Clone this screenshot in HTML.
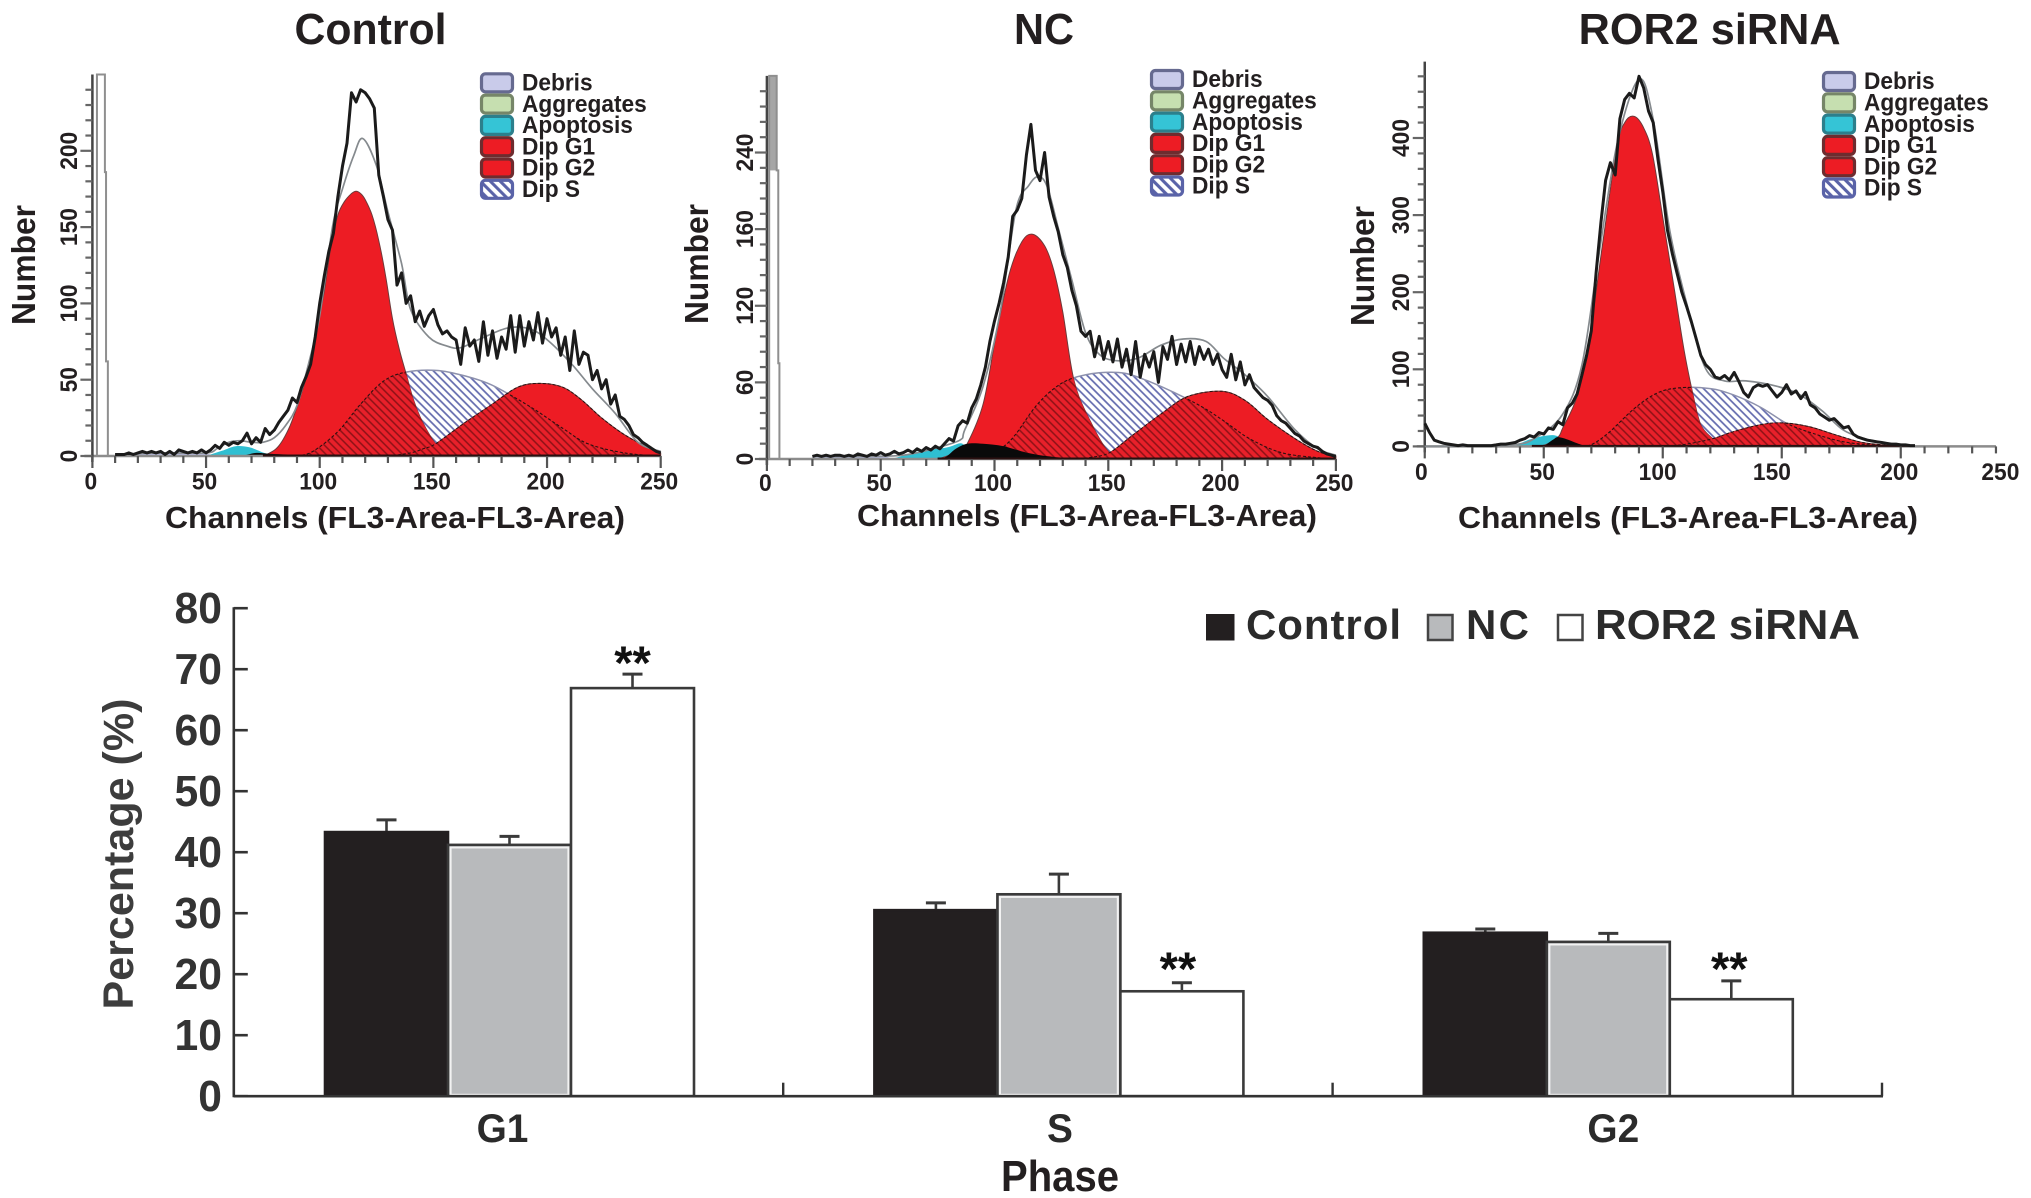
<!DOCTYPE html>
<html lang="en">
<head>
<meta charset="utf-8">
<title>Cell cycle histograms and phase percentages</title>
<style>
html,body{margin:0;padding:0;background:#fff;}
svg{display:block;}
text{font-family:"Liberation Sans",sans-serif;font-weight:bold;fill:#231f20;}
</style>
</head>
<body>
<svg id="fig" xmlns="http://www.w3.org/2000/svg" width="2031" height="1198" viewBox="0 0 2031 1198">
<defs>
<pattern id="hatch-blue" patternUnits="userSpaceOnUse" width="5.4" height="5.4" patternTransform="rotate(-45)">
<rect width="5.4" height="5.4" fill="#fff"/><line x1="1" y1="0" x2="1" y2="5.4" stroke="#6169ad" stroke-width="1.7"/>
</pattern>
<pattern id="hatch-dark" patternUnits="userSpaceOnUse" width="5.4" height="5.4" patternTransform="rotate(-45)">
<rect width="5.4" height="5.4" fill="#e8202a"/><line x1="1" y1="0" x2="1" y2="5.4" stroke="#8c1116" stroke-width="1.5"/>
</pattern>
<pattern id="hatch-legend" patternUnits="userSpaceOnUse" width="7" height="7" patternTransform="rotate(-45)">
<rect width="7" height="7" fill="#fff"/><line x1="1.5" y1="0" x2="1.5" y2="7" stroke="#5a63a8" stroke-width="3.2"/>
</pattern>
</defs>

<text x="370.5" y="44" font-size="44" text-anchor="middle" textLength="152" lengthAdjust="spacingAndGlyphs">Control</text>
<text x="1044" y="44" font-size="44" text-anchor="middle" textLength="60" lengthAdjust="spacingAndGlyphs">NC</text>
<text x="1709.6" y="44" font-size="44" text-anchor="middle" textLength="262" lengthAdjust="spacingAndGlyphs">ROR2 siRNA</text>

<text transform="translate(35,265) rotate(-90)" font-size="33" text-anchor="middle" textLength="120" lengthAdjust="spacingAndGlyphs">Number</text>
<text transform="translate(708,264) rotate(-90)" font-size="33" text-anchor="middle" textLength="120" lengthAdjust="spacingAndGlyphs">Number</text>
<text transform="translate(1374,266) rotate(-90)" font-size="33" text-anchor="middle" textLength="120" lengthAdjust="spacingAndGlyphs">Number</text>

<text x="395" y="528" font-size="31" text-anchor="middle" textLength="460" lengthAdjust="spacingAndGlyphs">Channels (FL3-Area-FL3-Area)</text>
<text x="1087" y="526" font-size="31" text-anchor="middle" textLength="460" lengthAdjust="spacingAndGlyphs">Channels (FL3-Area-FL3-Area)</text>
<text x="1688" y="528" font-size="31" text-anchor="middle" textLength="460" lengthAdjust="spacingAndGlyphs">Channels (FL3-Area-FL3-Area)</text>

<text transform="translate(133,854) rotate(-90)" font-size="43" text-anchor="middle" textLength="311" lengthAdjust="spacingAndGlyphs" style="fill:#3d3d3d">Percentage (%)</text>
<text x="1060" y="1191" font-size="44" text-anchor="middle" textLength="118" lengthAdjust="spacingAndGlyphs">Phase</text>

<g>
<rect x="1206" y="614" width="28.5" height="26.5" fill="#231f20"/>
<text x="1246" y="639" font-size="42" textLength="155" lengthAdjust="spacing" style="fill:#2b2b2b">Control</text>
<rect x="1428" y="615" width="24.5" height="25" fill="#b8babc" stroke="#444" stroke-width="2.5"/>
<text x="1466" y="639" font-size="42" textLength="63" lengthAdjust="spacing" style="fill:#2b2b2b">NC</text>
<rect x="1558" y="615" width="24.5" height="25" fill="#fff" stroke="#444" stroke-width="2.5"/>
<text x="1595" y="639" font-size="42" textLength="265" lengthAdjust="spacingAndGlyphs" style="fill:#2b2b2b">ROR2 siRNA</text>
</g>
</svg>

<script>
// ---------- histogram data ----------
const legendLabels = ['Debris','Aggregates','Apoptosis','Dip G1','Dip G2','Dip S'];

const controlHistStart = 10;
const controlHist = [1,1,1,2,1,2,3,2,3,2,3,1,3,1,4,3,2,3,2,4,2,
 4,7,5,9,7,9,8,10,15,8,12,9,18,14,17,22,26,30,38,35,45,
 52,60,78,100,118,134,146,170,190,205,238,232,240,238,234,228,
 184,170,155,148,112,120,100,105,88,95,85,92,96,86,80,82,78,76,60,84,72,76,62,88,66,82,64,78,70,92,68,92,72,88,76,94,74,90,78,84,66,78,56,82,60,68,66,50,56,44,50,34,40,26,24,20,14,12,9,7,5,3,2];
const controlFitCh = [10,30,50,55,60,65,70,75,80,85,90,95,100,105.7,110,115,119,125,130,136,140,148,156,162,171,183,193,201,211,220,230,240,250];
const controlFit = [1,2,2,5,9,10,9,9,12,20,33,60,92,151,175,197,208,190,160,126,96,78,72,71,77,84,83,75,60,44,28,9,3];
const controlG1Ch = [75,78,81,84,87,90,93,96,99,102,105,108,111,114,116,118,120,123,126,129,132,135,138,141,145,151,156,162];
const controlG1 = [0,2,5,11,20,32,46,62,85,108,138,158,167,172,173.5,172,168,158,141,118,90,70,54,38,23,8,3,0];
const controlG2Ch = [130,140,146,151,164,175,187,197,207,215,224,234,244,250];
const controlG2 = [0,2,5,8,22,33,45,47.6,45,37,25,14,6,2];
const controlSCh = [90,97,108,118,128,138,152,165,175,185,195,207,218,234,250];
const controlS = [0,3,16,34,49,55,56,52,47,39,30,18,8,2,0];
const controlApopCh = [50,57,63,69,75,80];
const controlApop = [0,3.4,6.4,5.7,2.3,0];
const controlBlackCh = [66,72,78,86,96,110];
const controlBlack = [0,2,1.5,1,0.6,0];
const controlDebrisCh = [10,20,30,40,50,55];
const controlDebris = [1,1.5,2,3,1.5,0];
const controlSpikeCh = [2,2,5.5,5.5,6,6,6.8,6.8];
const controlSpike = [0,250,250,186,186,62,62,0];

const ncHistStart = 20;
const ncHist = [2,3,2,3,2,3,3,2,3,2,4,3,2,4,3,5,3,4,6,4,5,
 7,5,8,6,9,7,10,8,12,16,14,26,30,28,40,47,58,72,92,108,122,138,158,190,195,204,238,262,226,218,240,205,190,178,160,150,132,120,100,96,100,80,96,78,92,76,94,72,86,66,92,64,82,72,84,60,88,78,96,74,90,76,92,74,88,78,86,74,82,70,64,82,62,76,58,66,56,52,48,46,42,34,30,28,24,20,18,14,12,10,9,6,4,3,2];
const ncFitCh = [20,40,60,75,85,87,95,102.5,109.4,115,119,123,128,134,140,146,153.5,163,173,183,193,200.6,210,220,232,242,250];
const ncFit = [2,2,3,9,15,23,57,115,195,214,221,214,181,140,99,82,77,79,89,94,92,79,66,49,23,8,3];
const ncG1Ch = [75,80,85,88,95,100.6,106.5,112,116.7,122,126,130,135,142,150.6,160];
const ncG1 = [0,3,8,12,43,96,145,170,176,167,148,115,61,30,5,0];
const ncG2Ch = [135,143,150.6,161,173,185,200,210,220,232,242,250];
const ncG2 = [0,1.5,5,19,35,49,53,46,31,16,6,2];
const ncSCh = [92,100,105.5,110,118,126,134,146,157.5,169,179,191,200.6,212,226,242,250];
const ncS = [0,5,12,21,41,55,63,67.5,67,60,52,41,30,16,5,1,0];
const ncApopCh = [55,67,79,86,89];
const ncApop = [0,6,9,12,0];
const ncBlackCh = [76,79,83,88,95,104,114,124,134];
const ncBlack = [0,2,8,12,12,10,5,2,0.4];
const ncDebrisCh = [20,30,40,50,55];
const ncDebris = [1,2,2,3,0];
const ncSpikeCh = [1,1,4.3,4.3,5,5,5.5,5.5];
const ncSpike = [0,300,300,226,226,75,75,0];

const rorHistStart = 0;
const rorHist = [30,18,8,6,4,3,2,1,2,1,1,1,1,1,1,2,3,3,4,5,8,10,14,12,18,16,24,22,32,28,50,
 56,68,92,118,150,225,290,345,368,352,425,450,458,452,480,465,435,420,372,330,280,250,225,200,182,162,140,118,106,100,90,88,92,86,96,84,70,64,76,80,78,80,72,64,70,80,68,72,62,70,54,50,42,38,34,36,30,24,26,16,12,10,8,7,6,5,4,3,3,2,2,1,1];
const rorFitCh = [0,36,47,58,66,73,81,90,96,103,110.7,118,126,135,148,157.6,167,176,186,195,204.5];
const rorFit = [0,2,12,42,105,245,395,476,424,279,178,101,85,85,78,67,46,21,9,4,1];
const rorG1Ch = [45,50.6,56,58,64,69,75,80.7,84,88,92,95.7,100,105,109,112.6,116,121,124,130];
const rorG1 = [0,2,12,24,65,137,269,388,420,428,413,379,297,201,124,69,28,10,3,0];
const rorG2Ch = [100,110,121,129.5,141,150,161,172.6,184,197,204];
const rorG2 = [0,3,10,19,28,30.5,26,15,5,1,0];
const rorSCh = [62,69,77,88,97.5,107,120,129.5,141,152,163,176,191,200];
const rorS = [0,1,17,49,69,76,75,67,51,30,17,6,1,0];
const rorApopCh = [37.5,45,54.4,60,65];
const rorApop = [0,10,14.5,5,0];
const rorBlackCh = [50,54,56,60,64,68];
const rorBlack = [0,9,12,9,4,0];
const rorDebrisCh = [30,37];
const rorDebris = [0,0];
const rorSpikeCh = [];
const rorSpike = [];

// ---------- bar chart data ----------
const phaseCategories = ['G1','S','G2'];
const barGroups = ['Control','NC','ROR2 siRNA'];
const controlMeans = [43.3,30.5,26.8];
const ncMeans = [41.2,33.1,25.3];
const rorMeans = [66.9,17.2,15.9];
const controlTops = [45.3,31.7,27.4];
const ncTops = [42.6,36.4,26.7];
const rorTops = [69.2,18.6,18.9];
const significance = ['**','**','**'];
const barTickValues = [0,10,20,30,40,50,60,70,80];

// ---------- layout ----------
const NS = 'http://www.w3.org/2000/svg';
const svg = document.getElementById('fig');
function mk(tag, attrs, parent, txt){
  const e = document.createElementNS(NS, tag);
  for (const k in attrs) e.setAttribute(k, attrs[k]);
  if (txt !== undefined) e.textContent = txt;
  (parent || svg).appendChild(e);
  return e;
}
function squeeze(el, f){
  el.setAttribute('textLength', (el.getComputedTextLength()*f).toFixed(1));
  el.setAttribute('lengthAdjust', 'spacingAndGlyphs');
}
function smoothPath(pts){
  let d = '';
  for (let i = 0; i < pts.length - 1; i++){
    const p0 = pts[Math.max(i-1,0)], p1 = pts[i], p2 = pts[i+1], p3 = pts[Math.min(i+2,pts.length-1)];
    const c1x = p1[0] + (p2[0]-p0[0])/6, c1y = p1[1] + (p2[1]-p0[1])/6;
    const c2x = p2[0] - (p3[0]-p1[0])/6, c2y = p2[1] - (p3[1]-p1[1])/6;
    d += 'C' + c1x.toFixed(1) + ' ' + c1y.toFixed(1) + ' ' + c2x.toFixed(1) + ' ' + c2y.toFixed(1) + ' ' + p2[0].toFixed(1) + ' ' + p2[1].toFixed(1);
  }
  return d;
}

const panels = [
 {key:'control', x0:92.4, xk:2.2732, y0:456, yk:1.526, yTop:250, yMajor:50, yMinor:10, yTickMax:240,
  yVals:[0,50,100,150,200], yText:['0','50','100','150','200'], yLabelX:77, xEnd:250,
  xVals:[0,50,100,150,200,250], xText:['0','50','100','150','200','250'], xBase:489.5, legX:480, legY:73.3,
  hist:controlHist, histStart:controlHistStart, fitCh:controlFitCh, fit:controlFit, g1Ch:controlG1Ch, g1:controlG1, g2Ch:controlG2Ch, g2:controlG2, sCh:controlSCh, s:controlS, apCh:controlApopCh, ap:controlApop, blCh:controlBlackCh, bl:controlBlack, deCh:controlDebrisCh, de:controlDebris, spCh:controlSpikeCh, sp:controlSpike, spFill:null},
 {key:'nc', x0:766.9, xk:2.276, y0:459, yk:1.277, yTop:300, yMajor:60, yMinor:12, yTickMax:288,
  yVals:[0,60,120,180,240], yText:['0','60','120','160','240'], yLabelX:753, xEnd:250,
  xVals:[0,50,100,150,200,250], xText:['0','50','100','150','200','250'], xBase:491, legX:1150, legY:70,
  hist:ncHist, histStart:ncHistStart, fitCh:ncFitCh, fit:ncFit, g1Ch:ncG1Ch, g1:ncG1, g2Ch:ncG2Ch, g2:ncG2, sCh:ncSCh, s:ncS, apCh:ncApopCh, ap:ncApop, blCh:ncBlackCh, bl:ncBlack, deCh:ncDebrisCh, de:ncDebris, spCh:ncSpikeCh, sp:ncSpike, spFill:226},
 {key:'ror2', x0:1424.75, xk:2.38, y0:446.4, yk:0.771, yTop:499, yMajor:100, yMinor:20, yTickMax:480,
  yVals:[0,100,200,300,400], yText:['0','100','200','300','400'], yLabelX:1409, xEnd:240,
  xVals:[-0.8,50,98.5,146.5,200,242.5], xText:['0','50','100','150','200','250'], xBase:480, legX:1822, legY:72,
  hist:rorHist, histStart:rorHistStart, fitCh:rorFitCh, fit:rorFit, g1Ch:rorG1Ch, g1:rorG1, g2Ch:rorG2Ch, g2:rorG2, sCh:rorSCh, s:rorS, apCh:rorApopCh, ap:rorApop, blCh:rorBlackCh, bl:rorBlack, deCh:rorDebrisCh, de:rorDebris, spCh:rorSpikeCh, sp:rorSpike, spFill:null}
];
const legendFills = ['#c9cbea','#c6dfb0','#35c4d6','#ed1c24','#ed1c24','url(#hatch-legend)'];
const legendEdges = ['#666a90','#768668','#2c7f8c','#6e2c2f','#6e2c2f','#5a63a8'];

panels.forEach(function(p){
  const X = function(c){ return p.x0 + c*p.xk; };
  const Y = function(v){ return p.y0 - v*p.yk; };
  const g = mk('g', {}, svg);
  
  

  function area(ch, vals){
    const pts = ch.map(function(c,i){ return [X(c), Y(vals[i])]; });
    return 'M' + pts[0][0].toFixed(1) + ' ' + p.y0 + 'L' + pts[0][0].toFixed(1) + ' ' + pts[0][1].toFixed(1) + smoothPath(pts) + 'L' + pts[pts.length-1][0].toFixed(1) + ' ' + p.y0 + 'Z';
  }
  function curve(ch, vals){
    const pts = ch.map(function(c,i){ return [X(c), Y(vals[i])]; });
    return 'M' + pts[0][0].toFixed(1) + ' ' + pts[0][1].toFixed(1) + smoothPath(pts);
  }

  // model components
  const debris = mk('path', {d:area(p.deCh,p.de), fill:'#b9bde3'}, g);
  
  
  const sArea = mk('path', {d:area(p.sCh,p.s), fill:'url(#hatch-blue)', stroke:'#8d91ad', 'stroke-width':1.5}, g);
  
  
  const apop = mk('path', {d:area(p.apCh,p.ap), fill:'#2fbfd2'}, g);
  
  
  const g1 = mk('path', {d:area(p.g1Ch,p.g1), fill:'#ed1c24', stroke:'#6e3a3a', 'stroke-width':1}, g);
  
  
  const g2 = mk('path', {d:area(p.g2Ch,p.g2), fill:'#ed1c24', stroke:'#6e3a3a', 'stroke-width':1}, g);
  
  

  // S hatch where it overlaps G1 / G2
  const cid = 'clip-' + p.key;
  const clip = mk('clipPath', {id:cid}, g);
  mk('path', {d:area(p.g1Ch,p.g1)}, clip);
  mk('path', {d:area(p.g2Ch,p.g2)}, clip);
  const overlap = mk('path', {d:area(p.sCh,p.s), fill:'url(#hatch-dark)', 'clip-path':'url(#'+cid+')'}, g);
  
  
  const sEdge = mk('path', {d:curve(p.sCh,p.s), fill:'none', stroke:'#2a1010', 'stroke-width':1.1, 'stroke-dasharray':'3 2', 'clip-path':'url(#'+cid+')'}, g);
  
  
  const g2Edge = mk('path', {d:curve(p.g2Ch,p.g2), fill:'none', stroke:'#2a1010', 'stroke-width':1, 'stroke-dasharray':'3 2'}, g);
  
  
  const black = mk('path', {d:area(p.blCh,p.bl), fill:'#0a0a0a'}, g);
  
  

  // axes
  const base = mk('line', {x1:p.x0-8, y1:p.y0, x2:X(p.xEnd), y2:p.y0, stroke:'#8c8c8c', 'stroke-width':2.5}, g);
  
  
  const redBase = mk('line', {x1:X(p.g1Ch[0]), y1:p.y0-0.5, x2:X(p.g2Ch[p.g2Ch.length-1]), y2:p.y0-0.5, stroke:'#2a1010', 'stroke-width':2}, g);
  
  
  const yAxis = mk('line', {x1:p.x0, y1:Y(p.yTop), x2:p.x0, y2:p.y0+6, stroke:'#444', 'stroke-width':2.5}, g);
  
  
  for (let v = 0; v <= p.yTickMax; v += p.yMinor){
    const major = v % p.yMajor === 0;
    const t = mk('line', {x1:p.x0-(major?12:7), y1:Y(v), x2:p.x0, y2:Y(v), stroke:'#666', 'stroke-width':2.2}, g);
    
    
  }
  for (let c = 0; c <= p.xEnd; c += 10){
    const major = c % 50 === 0;
    const t = mk('line', {x1:X(c), y1:p.y0, x2:X(c), y2:p.y0+(major?12:7), stroke:'#555', 'stroke-width':2.2}, g);
    
    
  }
  p.yVals.forEach(function(v,i){
    const t = mk('text', {transform:'translate('+p.yLabelX+','+Y(v)+') rotate(-90)', 'font-size':24, 'text-anchor':'middle'}, g, p.yText[i]);
    
    
    squeeze(t, 0.95);
  });
  p.xVals.forEach(function(c,i){
    const t = mk('text', {x:X(c)-1.5, y:p.xBase, 'font-size':24, 'text-anchor':'middle'}, g, p.xText[i]);
    
    
    squeeze(t, 0.95);
  });

  // off-scale spike at the left edge
  if (p.spCh.length){
    if (p.spFill){
      const sf = mk('rect', {x:X(p.spCh[0]), y:Y(p.yTop), width:X(p.spCh[2])-X(p.spCh[0]), height:Y(p.spFill)-Y(p.yTop), fill:'#a6a6a6'}, g);
      
      
    }
    const spike = mk('polyline', {points:p.spCh.map(function(c,i){ return X(c)+','+Y(p.sp[i]); }).join(' '), fill:'none', stroke:'#8f8f8f', 'stroke-width':2}, g);
    
    
  }

  // fit and histogram lines
  const fit = mk('path', {d:curve(p.fitCh,p.fit), fill:'none', stroke:'#858a8e', 'stroke-width':1.7}, g);
  
  
  const hist = mk('polyline', {points:p.hist.map(function(v,i){ return X(p.histStart+i*2).toFixed(1)+','+Y(v).toFixed(1); }).join(' '), fill:'none', stroke:'#1b1b1b', 'stroke-width':3, 'stroke-linejoin':'round'}, g);
  
  

  // legend
  legendLabels.forEach(function(lbl,i){
    const ly = p.legY + i*21.3;
    const sw = mk('rect', {x:p.legX+1.5, y:ly+0.5, width:31, height:18, rx:4, fill:legendFills[i], stroke:legendEdges[i], 'stroke-width':3.2}, g);
    
    
    const tx = mk('text', {x:p.legX+42, y:ly+17.2, 'font-size':24}, g, lbl);
    
    
    squeeze(tx, 0.945);
  });
});

// ---------- bar chart ----------
const barX0 = 233.8, barY0 = 1096.2, barK = 6.1, catWidth = 549.4, barWidth = 123, catPad = 91.2;
const catLabelNudge = [-6,2,6];
const starNudgeX = [0,-4,-2];
const starNudgeY = [5,2.5,4];
const yBar = function(v){ return barY0 - v*barK; };
const barChart = mk('g', {}, svg);



const seriesMeans = [controlMeans, ncMeans, rorMeans];
const seriesTops = [controlTops, ncTops, rorTops];
phaseCategories.forEach(function(cat,ci){
  const left = barX0 + ci*catWidth + catPad;
  barGroups.forEach(function(grp,si){
    const bx = left + si*barWidth;
    const m = seriesMeans[si][ci], t = seriesTops[si][ci];
    const midX = bx + barWidth/2;
    const stem = mk('line', {x1:midX, y1:yBar(m), x2:midX, y2:yBar(t), stroke:'#3a3a3a', 'stroke-width':2.6}, barChart);
    
    
    const cap = mk('line', {x1:midX-10, y1:yBar(t), x2:midX+10, y2:yBar(t), stroke:'#3a3a3a', 'stroke-width':3}, barChart);
    
    
    const fill = si === 0 ? '#231f20' : (si === 1 ? '#b8babc' : '#fff');
    const stroke = si === 0 ? '#231f20' : '#3a3a3a';
    const bar = mk('rect', {x:bx, y:yBar(m), width:barWidth, height:barY0-yBar(m), fill:fill, stroke:stroke, 'stroke-width':2.6}, barChart);
    
    
    if (si === 1){
      const inner = mk('rect', {x:bx+2.6, y:yBar(m)+2.6, width:barWidth-5.2, height:barY0-yBar(m)-4, fill:'none', stroke:'#f2f2f2', 'stroke-width':2}, barChart);
      
      
    }
  });
  const stars = mk('text', {x:left + 2.5*barWidth + starNudgeX[ci], y:yBar(seriesTops[2][ci]) + starNudgeY[ci], 'font-size':47, 'text-anchor':'middle', style:'fill:#111'}, barChart, significance[ci]);
  
  
  const label = mk('text', {x:barX0 + (ci+0.5)*catWidth + catLabelNudge[ci], y:1142, 'font-size':40, 'text-anchor':'middle', style:'fill:#2b2b2b'}, barChart, cat);
  
  
  squeeze(label, 0.97);
  const tick = mk('line', {x1:barX0+(ci+1)*catWidth, y1:barY0, x2:barX0+(ci+1)*catWidth, y2:barY0-13.5, stroke:'#333', 'stroke-width':2.4}, barChart);
  
  
});
const barAxisX = mk('line', {x1:barX0, y1:barY0, x2:barX0+3*catWidth+1, y2:barY0, stroke:'#333', 'stroke-width':2.6}, barChart);


const barAxisY = mk('line', {x1:barX0, y1:yBar(80)-1, x2:barX0, y2:barY0+1, stroke:'#333', 'stroke-width':2.6}, barChart);


barTickValues.forEach(function(v){
  const t = mk('line', {x1:barX0, y1:yBar(v), x2:barX0+14, y2:yBar(v), stroke:'#333', 'stroke-width':2.6}, barChart);
  
  
  const l = mk('text', {x:222, y:yBar(v)+15, 'font-size':44, 'text-anchor':'end', style:'fill:#333'}, barChart, String(v));
  
  
  squeeze(l, 0.97);
});
</script>
</body>
</html>
